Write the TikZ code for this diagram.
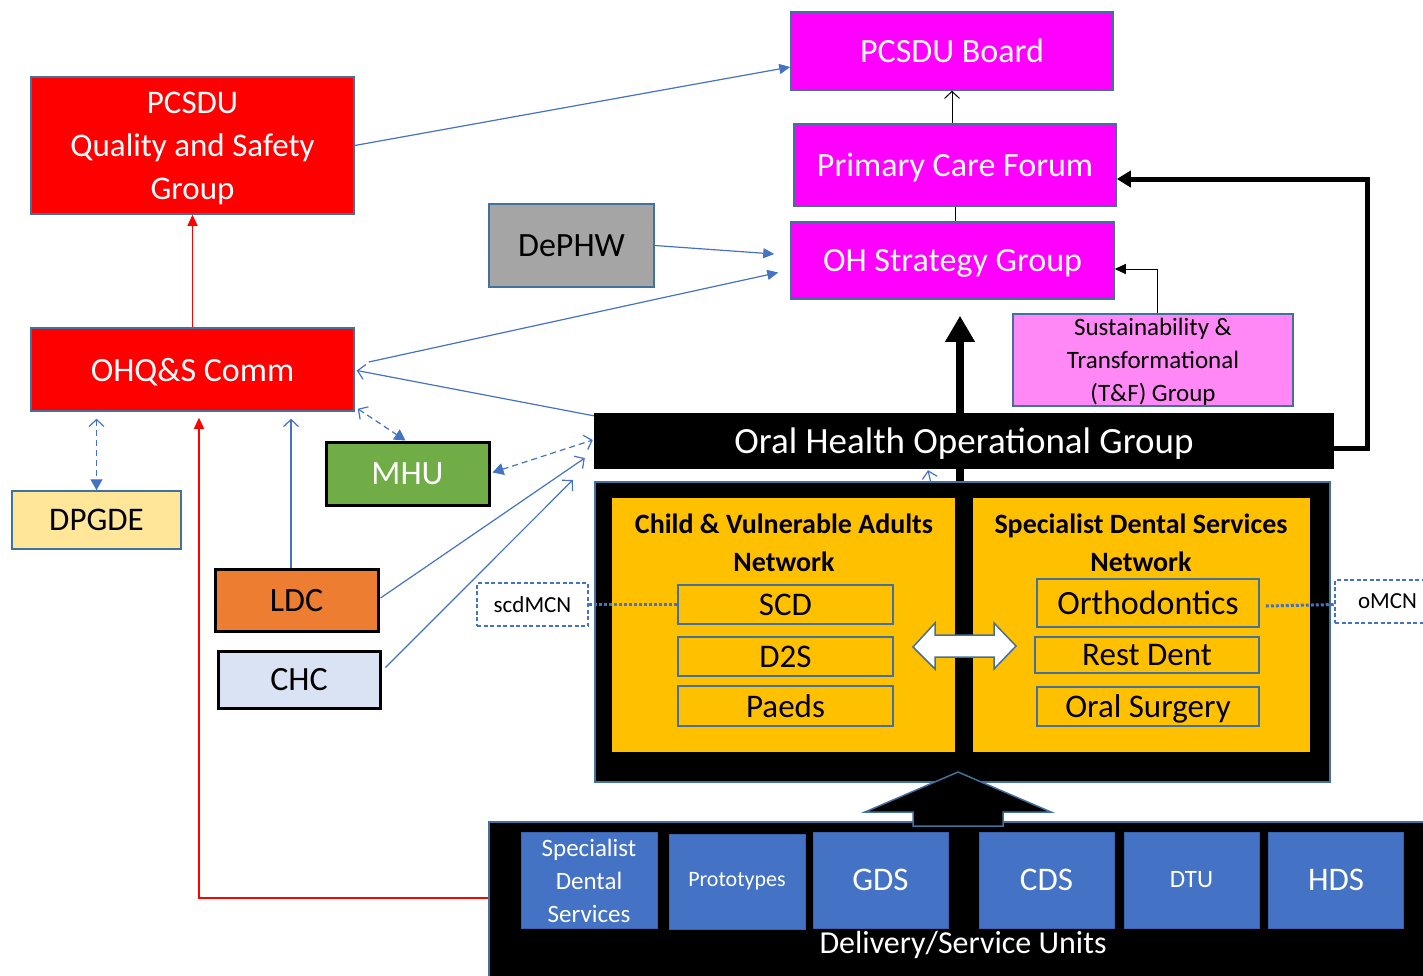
\documentclass[tikz,border=0pt]{standalone}
\usepackage{fontspec}
\setmainfont{Carlito}
\usetikzlibrary{arrows.meta,calc}
\definecolor{mag}{HTML}{FF00FF}
\definecolor{edgeblue}{HTML}{41719C}
\definecolor{lineblue}{HTML}{4472C4}
\definecolor{unitblue}{HTML}{4472C4}
\definecolor{unitedge}{HTML}{3A62AD}
\definecolor{netyellow}{HTML}{FFC000}
\definecolor{tfpink}{HTML}{FF88F6}
\definecolor{dpyellow}{HTML}{FFE699}
\definecolor{chcblue}{HTML}{DAE3F3}
\definecolor{dgray}{HTML}{A5A5A5}
\definecolor{mgreen}{HTML}{70AD47}
\definecolor{lorange}{HTML}{ED7D31}
\newcommand{\setfs}[2]{\fontsize{#1}{#2}\selectfont}
\tikzset{
  box/.style={draw=edgeblue, line width=1.5pt, inner sep=0pt, align=center, text depth=0pt},
  heavybox/.style={draw=black, line width=3pt, inner sep=0pt, align=center, text depth=0pt},
  unitbox/.style={fill=unitblue, draw=unitedge, line width=1pt, inner sep=0pt, align=center, text=white},
  mcnbox/.style={draw=lineblue, dash pattern=on 4pt off 2.5pt, line width=1.2pt, inner sep=0pt, fill=white},
  bl/.style={draw=lineblue, line width=1.2pt},
  bldash/.style={draw=lineblue, line width=1.2pt, dash pattern=on 6pt off 4pt},
  mcnline/.style={draw=lineblue, line width=3pt, dash pattern=on 3pt off 2pt},
  filltip/.style={-{Triangle[length=11pt,width=10pt]}},
  opentip/.style={-{Straight Barb[length=7pt,width=15pt]}},
}

\begin{document}
\begin{tikzpicture}[x=1pt,y=-1pt]
		%%%%% START %%%%%
		\useasboundingbox (0,0) rectangle (1423,975);
		
		% top column
		\node[box, fill=mag, text=white, minimum width=322, minimum height=78, font=\setfs{34}{40}] (board) at (952,51) {PCSDU Board};
		\node[box, fill=mag, text=white, minimum width=322, minimum height=82, font=\setfs{34}{40}] (pcf) at (955,165) {Primary Care Forum};
		\node[box, fill=mag, text=white, minimum width=323, minimum height=77, font=\setfs{34}{40}] (ohsg) at (952.5,260.5) {OH Strategy Group};
		\node[box, fill=tfpink, minimum width=280, minimum height=92, font=\setfs{25}{33}] (tfg) at (1153,360) {Sustainability \&\\Transformational\\(T\&F) Group};
		
		% left column
		\node[box, fill=red, text=white, minimum width=323, minimum height=137, font=\setfs{33}{43}] (qsg) at (192.5,145.5) {PCSDU\\Quality and Safety\\Group};
		\node[box, fill=red, text=white, minimum width=323, minimum height=83, font=\setfs{34}{40}] (ohqs) at (192.5,369.5) {OHQ\&S Comm};
		\node[box, fill=dgray, minimum width=165, minimum height=83, font=\setfs{34}{40}] (dephw) at (571.5,245.5) {DePHW};
		\node[heavybox, fill=mgreen, text=white, minimum width=163, minimum height=63, font=\setfs{34}{40}] (mhu) at (407.5,473.5) {MHU};
		\node[box, fill=dpyellow, minimum width=169, minimum height=58, font=\setfs{33}{40}] (dpgde) at (96.5,520) {DPGDE};
		\node[heavybox, fill=lorange, minimum width=163, minimum height=62, font=\setfs{34}{40}] (ldc) at (296.5,600) {LDC};
		\node[heavybox, fill=chcblue, minimum width=162, minimum height=57, font=\setfs{34}{40}] (chc) at (299,679.5) {CHC};
		
		% network block
		\node[fill=black, draw=edgeblue, line width=1.5pt, minimum width=735, minimum height=300, inner sep=0pt] (netblk) at (962.5,632) {};
		\node[fill=netyellow, minimum width=343, minimum height=254, inner sep=0pt] (cva) at (783.5,625) {};
		\node[fill=netyellow, minimum width=337, minimum height=254, inner sep=0pt] (sds) at (1141.5,625) {};
		\node[font=\setfs{28}{38}\bfseries, align=center] (cvat) at (784,543) {Child \& Vulnerable Adults\\Network};
		\node[font=\setfs{28}{38}\bfseries, align=center] (sdst) at (1141,543) {Specialist Dental Services\\Network};
		\node[box, minimum width=215, minimum height=39, font=\setfs{33}{40}] (scd) at (785.5,604.5) {SCD};
		\node[box, minimum width=215, minimum height=39, font=\setfs{33}{40}] (dts) at (785.5,656.5) {D2S};
		\node[box, minimum width=215, minimum height=40, font=\setfs{33}{40}] (paeds) at (785.5,706) {Paeds};
		\node[box, minimum width=222, minimum height=48, font=\setfs{34}{40}] (ortho) at (1148,603) {Orthodontics};
		\node[box, minimum width=224, minimum height=36, font=\setfs{33}{40}] (rdent) at (1147,655) {Rest Dent};
		\node[box, minimum width=222, minimum height=39, font=\setfs{33}{40}] (osurg) at (1148,706.5) {Oral Surgery};
		\draw[draw=edgeblue, fill=white, line width=1.5pt] (913,647) -- (935,623) -- (935,635) -- (994,635) -- (994,623) -- (1016,646) -- (994,669) -- (994,657) -- (935,657) -- (935,669) -- cycle;
		
		% big arrow into strategy group, behind the operational group
		\draw[line width=8pt, -{Triangle[length=26pt,width=28pt]}] ($(netblk.north)+(-2.5,0)$) -- ($(ohsg.south)+(7.5,16)$);
		
		% operational group
		\node[fill=black, text=white, inner sep=0pt, text depth=0pt, minimum width=740, minimum height=56, font=\setfs{37}{44}] (ohog) at (964,441) {Oral Health Operational Group};
		
		\node[mcnbox, minimum width=111, minimum height=43, font=\setfs{23}{27}] (scdmcn) at (532.5,604.5) {scdMCN};
		\node[mcnbox, minimum width=105, minimum height=43, font=\setfs{23}{27}] (omcn) at (1387.5,601.5) {oMCN\hspace{4pt}};
		\draw[mcnline] (scdmcn.east) -- (scd.west);
		\draw[mcnline] ($(ortho.east)+(6,3)$) -- ($(omcn.west)+(0,3)$);
		
		% delivery units
		\node[fill=black, draw=edgeblue, line width=1.5pt, minimum width=951, minimum height=168, inner sep=0pt] (dlv) at (964.5,906) {};
		\node[unitbox, minimum width=136, minimum height=96, font=\setfs{25}{33}] (spec) at (589,880.5) {Specialist\\Dental\\Services};
		\node[unitbox, minimum width=136, minimum height=95, font=\setfs{22}{26}] (proto) at (737,881.5) {Prototypes};
		\node[unitbox, minimum width=135, minimum height=96, font=\setfs{33}{40}] (gds) at (880.5,880) {GDS};
		\node[unitbox, minimum width=135, minimum height=96, font=\setfs{33}{40}] (cds) at (1046.5,880) {CDS};
		\node[unitbox, minimum width=135, minimum height=96, font=\setfs{25}{30}] (dtu) at (1191.5,880) {DTU};
		\node[unitbox, minimum width=135, minimum height=96, font=\setfs{33}{40}] (hds) at (1336,880) {HDS};
		\node[text=white, inner sep=0pt, font=\setfs{32}{38}] (dlvlbl) at (963,945) {Delivery/Service Units};
		\draw[draw=edgeblue, fill=black, line width=1.5pt] (913,826) -- (913,812) -- (865,812) -- (958,772) -- (1051,812) -- (1003,812) -- (1003,826) -- cycle;
		
		% connectors
		\draw[line width=1pt, opentip] (board.south |- pcf.north) -- (board.south);
		\draw[line width=1pt] (pcf.south) -- (pcf.south |- ohsg.north);
		\draw[line width=1pt, -{Triangle[length=11pt,width=10pt]}] ($(tfg.north)+(4,0)$) |- ($(ohsg.east)+(0,8.5)$);
		\draw[line width=5pt, -{Triangle[length=14pt,width=16pt]}] ($(ohog.east)+(0,7)$) -- ++(33,0) |- ($(pcf.east)+(0,14)$);
		\draw[bl, filltip] (qsg.east) -- ($(board.west)+(0,16)$);
		\draw[bl, filltip] (dephw.east) -- ($(ohsg.west)+(-16,-6.5)$);
		\draw[bl, filltip] ($(ohqs.east)+(14,-7.5)$) -- ($(ohsg.west)+(-12,12)$);
		\draw[bl, opentip] ($(ohog.north west)+(0,3)$) -- ($(ohqs.east)+(2,1)$);
		\draw[bldash, {Straight Barb[length=7pt,width=15pt]}-{Triangle[length=11pt,width=12pt]}] ($(ohqs.south east)+(3,-3)$) -- ($(mhu.north)+(-2,0)$);
		\draw[bldash, {Triangle[length=11pt,width=12pt]}-{Straight Barb[length=7pt,width=15pt]}] ($(mhu.east)+(2,-1)$) -- ($(ohog.west)+(-1,-1)$);
		\draw[bldash, {Straight Barb[length=7pt,width=15pt]}-{Triangle[length=11pt,width=12pt]}] ($(dpgde.north |- ohqs.south)+(0,7)$) -- (dpgde.north);
		\draw[bl, opentip] ($(ldc.north)+(-5.5,0)$) -- ($(ldc.north |- ohqs.south)+(-5.5,7)$);
		\draw[bl, opentip] ($(ldc.east)+(1,-2)$) -- ($(ohog.west)+(-9,17)$);
		\draw[bl, opentip] ($(chc.east)+(4,-12)$) -- ($(ohog.west)+(-21,39)$);
		\draw[bl, opentip] ($(netblk.north)+(-32,0)$) -- ($(ohog.south)+(-36,1)$);
		\draw[red, line width=1.2pt, filltip] ($(dlv.west)+(0,-8)$) -| ($(ohqs.south)+(6.5,6)$);
		\draw[red, line width=1.2pt, filltip] (ohqs.north) -- (qsg.south);
		%%%%% END %%%%%
\end{tikzpicture}
\end{document}
